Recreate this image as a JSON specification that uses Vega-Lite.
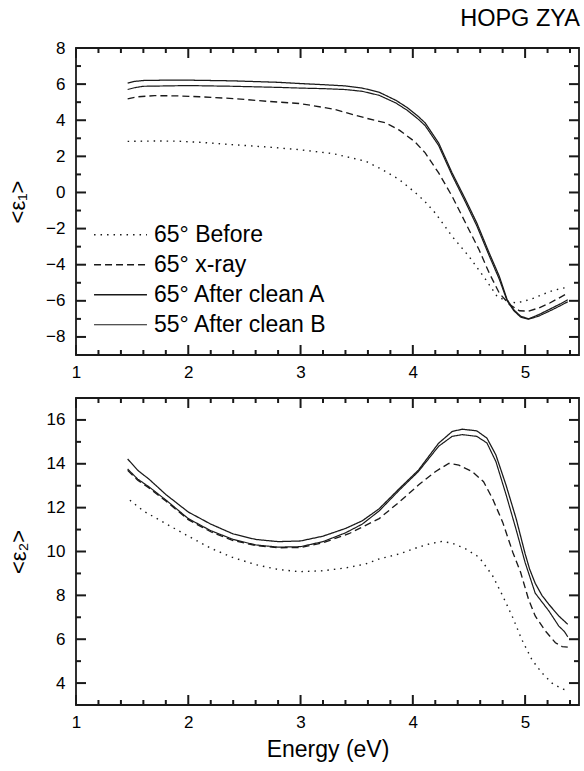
{
  "$schema": "https://vega.github.io/schema/vega-lite/v6.json",
  "padding": {"left": 5, "top": 6, "right": 4, "bottom": 4},
  "title": {"text": "HOPG ZYA", "anchor": "end", "fontSize": 23.5, "fontWeight": "normal", "font": "Liberation Sans", "color": "#000", "offset": 8},
  "spacing": 16,
  "datasets": {
    "xticks": [
      {"t": 1, "k": "major"}, {"t": 1.2, "k": "minor"}, {"t": 1.4, "k": "minor"}, {"t": 1.6, "k": "minor"}, {"t": 1.8, "k": "minor"},
      {"t": 2, "k": "major"}, {"t": 2.2, "k": "minor"}, {"t": 2.4, "k": "minor"}, {"t": 2.6, "k": "minor"}, {"t": 2.8, "k": "minor"},
      {"t": 3, "k": "major"}, {"t": 3.2, "k": "minor"}, {"t": 3.4, "k": "minor"}, {"t": 3.6, "k": "minor"}, {"t": 3.8, "k": "minor"},
      {"t": 4, "k": "major"}, {"t": 4.2, "k": "minor"}, {"t": 4.4, "k": "minor"}, {"t": 4.6, "k": "minor"}, {"t": 4.8, "k": "minor"},
      {"t": 5, "k": "major"}, {"t": 5.2, "k": "minor"}, {"t": 5.4, "k": "minor"}
    ],
    "yticks1": [
      {"t": -8, "k": "major"}, {"t": -7, "k": "minor"}, {"t": -6, "k": "major"}, {"t": -5, "k": "minor"}, {"t": -4, "k": "major"}, {"t": -3, "k": "minor"}, {"t": -2, "k": "major"}, {"t": -1, "k": "minor"},
      {"t": 0, "k": "major"}, {"t": 1, "k": "minor"}, {"t": 2, "k": "major"}, {"t": 3, "k": "minor"}, {"t": 4, "k": "major"}, {"t": 5, "k": "minor"}, {"t": 6, "k": "major"}, {"t": 7, "k": "minor"}, {"t": 8, "k": "major"}
    ],
    "yticks2": [
      {"t": 4, "k": "major"}, {"t": 5, "k": "minor"}, {"t": 6, "k": "major"}, {"t": 7, "k": "minor"}, {"t": 8, "k": "major"}, {"t": 9, "k": "minor"}, {"t": 10, "k": "major"},
      {"t": 11, "k": "minor"}, {"t": 12, "k": "major"}, {"t": 13, "k": "minor"}, {"t": 14, "k": "major"}, {"t": 15, "k": "minor"}, {"t": 16, "k": "major"}
    ],
    "eps1": [
      {"s": "65° Before", "E": 1.46, "v": 2.83}, {"s": "65° Before", "E": 1.7, "v": 2.85}, {"s": "65° Before", "E": 1.9, "v": 2.84}, {"s": "65° Before", "E": 2.1, "v": 2.78}, {"s": "65° Before", "E": 2.39, "v": 2.65}, {"s": "65° Before", "E": 2.7, "v": 2.52}, {"s": "65° Before", "E": 2.99, "v": 2.37}, {"s": "65° Before", "E": 3.29, "v": 2.15}, {"s": "65° Before", "E": 3.58, "v": 1.73}, {"s": "65° Before", "E": 3.73, "v": 1.26}, {"s": "65° Before", "E": 3.88, "v": 0.71}, {"s": "65° Before", "E": 4.02, "v": 0.0}, {"s": "65° Before", "E": 4.1, "v": -0.45}, {"s": "65° Before", "E": 4.2, "v": -1.14}, {"s": "65° Before", "E": 4.35, "v": -2.43}, {"s": "65° Before", "E": 4.5, "v": -3.54}, {"s": "65° Before", "E": 4.65, "v": -4.83}, {"s": "65° Before", "E": 4.75, "v": -5.75}, {"s": "65° Before", "E": 4.83, "v": -6.0}, {"s": "65° Before", "E": 4.92, "v": -6.12}, {"s": "65° Before", "E": 5.0, "v": -6.0}, {"s": "65° Before", "E": 5.08, "v": -5.85}, {"s": "65° Before", "E": 5.15, "v": -5.66}, {"s": "65° Before", "E": 5.24, "v": -5.45}, {"s": "65° Before", "E": 5.32, "v": -5.32}, {"s": "65° Before", "E": 5.38, "v": -5.25},
      {"s": "65° x-ray", "E": 1.46, "v": 5.18}, {"s": "65° x-ray", "E": 1.55, "v": 5.3}, {"s": "65° x-ray", "E": 1.7, "v": 5.36}, {"s": "65° x-ray", "E": 1.9, "v": 5.35}, {"s": "65° x-ray", "E": 2.1, "v": 5.3}, {"s": "65° x-ray", "E": 2.4, "v": 5.2}, {"s": "65° x-ray", "E": 2.7, "v": 5.05}, {"s": "65° x-ray", "E": 3.0, "v": 4.92}, {"s": "65° x-ray", "E": 3.29, "v": 4.62}, {"s": "65° x-ray", "E": 3.58, "v": 4.12}, {"s": "65° x-ray", "E": 3.76, "v": 3.85}, {"s": "65° x-ray", "E": 3.88, "v": 3.45}, {"s": "65° x-ray", "E": 4.02, "v": 2.8}, {"s": "65° x-ray", "E": 4.11, "v": 2.19}, {"s": "65° x-ray", "E": 4.23, "v": 1.08}, {"s": "65° x-ray", "E": 4.35, "v": -0.21}, {"s": "65° x-ray", "E": 4.47, "v": -1.69}, {"s": "65° x-ray", "E": 4.59, "v": -3.17}, {"s": "65° x-ray", "E": 4.68, "v": -4.46}, {"s": "65° x-ray", "E": 4.77, "v": -5.57}, {"s": "65° x-ray", "E": 4.86, "v": -6.2}, {"s": "65° x-ray", "E": 4.95, "v": -6.55}, {"s": "65° x-ray", "E": 5.03, "v": -6.57}, {"s": "65° x-ray", "E": 5.12, "v": -6.4}, {"s": "65° x-ray", "E": 5.22, "v": -6.12}, {"s": "65° x-ray", "E": 5.3, "v": -5.85}, {"s": "65° x-ray", "E": 5.38, "v": -5.57},
      {"s": "65° After clean A", "E": 1.46, "v": 6.05}, {"s": "65° After clean A", "E": 1.52, "v": 6.15}, {"s": "65° After clean A", "E": 1.6, "v": 6.2}, {"s": "65° After clean A", "E": 1.8, "v": 6.22}, {"s": "65° After clean A", "E": 2.0, "v": 6.22}, {"s": "65° After clean A", "E": 2.2, "v": 6.2}, {"s": "65° After clean A", "E": 2.4, "v": 6.18}, {"s": "65° After clean A", "E": 2.6, "v": 6.14}, {"s": "65° After clean A", "E": 2.8, "v": 6.1}, {"s": "65° After clean A", "E": 3.0, "v": 6.03}, {"s": "65° After clean A", "E": 3.2, "v": 5.97}, {"s": "65° After clean A", "E": 3.4, "v": 5.9}, {"s": "65° After clean A", "E": 3.55, "v": 5.78}, {"s": "65° After clean A", "E": 3.7, "v": 5.55}, {"s": "65° After clean A", "E": 3.85, "v": 5.1}, {"s": "65° After clean A", "E": 3.95, "v": 4.7}, {"s": "65° After clean A", "E": 4.05, "v": 4.2}, {"s": "65° After clean A", "E": 4.11, "v": 3.85}, {"s": "65° After clean A", "E": 4.23, "v": 2.74}, {"s": "65° After clean A", "E": 4.35, "v": 1.08}, {"s": "65° After clean A", "E": 4.47, "v": -0.4}, {"s": "65° After clean A", "E": 4.57, "v": -1.69}, {"s": "65° After clean A", "E": 4.68, "v": -3.35}, {"s": "65° After clean A", "E": 4.77, "v": -4.64}, {"s": "65° After clean A", "E": 4.84, "v": -5.94}, {"s": "65° After clean A", "E": 4.9, "v": -6.5}, {"s": "65° After clean A", "E": 4.96, "v": -6.85}, {"s": "65° After clean A", "E": 5.03, "v": -7.0}, {"s": "65° After clean A", "E": 5.12, "v": -6.77}, {"s": "65° After clean A", "E": 5.24, "v": -6.4}, {"s": "65° After clean A", "E": 5.32, "v": -6.15}, {"s": "65° After clean A", "E": 5.38, "v": -5.94},
      {"s": "55° After clean B", "E": 1.46, "v": 5.7}, {"s": "55° After clean B", "E": 1.52, "v": 5.8}, {"s": "55° After clean B", "E": 1.6, "v": 5.88}, {"s": "55° After clean B", "E": 1.8, "v": 5.9}, {"s": "55° After clean B", "E": 2.0, "v": 5.92}, {"s": "55° After clean B", "E": 2.2, "v": 5.9}, {"s": "55° After clean B", "E": 2.4, "v": 5.88}, {"s": "55° After clean B", "E": 2.6, "v": 5.85}, {"s": "55° After clean B", "E": 2.8, "v": 5.82}, {"s": "55° After clean B", "E": 3.0, "v": 5.78}, {"s": "55° After clean B", "E": 3.2, "v": 5.75}, {"s": "55° After clean B", "E": 3.4, "v": 5.7}, {"s": "55° After clean B", "E": 3.55, "v": 5.6}, {"s": "55° After clean B", "E": 3.7, "v": 5.38}, {"s": "55° After clean B", "E": 3.85, "v": 4.95}, {"s": "55° After clean B", "E": 3.95, "v": 4.55}, {"s": "55° After clean B", "E": 4.05, "v": 4.05}, {"s": "55° After clean B", "E": 4.11, "v": 3.7}, {"s": "55° After clean B", "E": 4.23, "v": 2.6}, {"s": "55° After clean B", "E": 4.35, "v": 0.95}, {"s": "55° After clean B", "E": 4.47, "v": -0.55}, {"s": "55° After clean B", "E": 4.57, "v": -1.85}, {"s": "55° After clean B", "E": 4.68, "v": -3.5}, {"s": "55° After clean B", "E": 4.77, "v": -4.8}, {"s": "55° After clean B", "E": 4.84, "v": -6.0}, {"s": "55° After clean B", "E": 4.9, "v": -6.55}, {"s": "55° After clean B", "E": 4.96, "v": -6.9}, {"s": "55° After clean B", "E": 5.03, "v": -7.02}, {"s": "55° After clean B", "E": 5.12, "v": -6.85}, {"s": "55° After clean B", "E": 5.24, "v": -6.5}, {"s": "55° After clean B", "E": 5.32, "v": -6.25}, {"s": "55° After clean B", "E": 5.38, "v": -6.05}
    ],
    "eps2": [
      {"s": "65° Before", "E": 1.48, "v": 12.34}, {"s": "65° Before", "E": 1.6, "v": 11.85}, {"s": "65° Before", "E": 1.8, "v": 11.27}, {"s": "65° Before", "E": 2.0, "v": 10.7}, {"s": "65° Before", "E": 2.2, "v": 10.15}, {"s": "65° Before", "E": 2.39, "v": 9.74}, {"s": "65° Before", "E": 2.6, "v": 9.4}, {"s": "65° Before", "E": 2.8, "v": 9.18}, {"s": "65° Before", "E": 2.99, "v": 9.08}, {"s": "65° Before", "E": 3.2, "v": 9.12}, {"s": "65° Before", "E": 3.4, "v": 9.25}, {"s": "65° Before", "E": 3.58, "v": 9.43}, {"s": "65° Before", "E": 3.7, "v": 9.66}, {"s": "65° Before", "E": 3.88, "v": 9.89}, {"s": "65° Before", "E": 4.05, "v": 10.2}, {"s": "65° Before", "E": 4.15, "v": 10.35}, {"s": "65° Before", "E": 4.26, "v": 10.46}, {"s": "65° Before", "E": 4.35, "v": 10.38}, {"s": "65° Before", "E": 4.47, "v": 10.12}, {"s": "65° Before", "E": 4.59, "v": 9.74}, {"s": "65° Before", "E": 4.71, "v": 8.9}, {"s": "65° Before", "E": 4.8, "v": 7.98}, {"s": "65° Before", "E": 4.89, "v": 6.99}, {"s": "65° Before", "E": 4.97, "v": 5.99}, {"s": "65° Before", "E": 5.06, "v": 5.07}, {"s": "65° Before", "E": 5.15, "v": 4.46}, {"s": "65° Before", "E": 5.24, "v": 4.0}, {"s": "65° Before", "E": 5.33, "v": 3.73}, {"s": "65° Before", "E": 5.38, "v": 3.67},
      {"s": "65° x-ray", "E": 1.46, "v": 13.7}, {"s": "65° x-ray", "E": 1.55, "v": 13.25}, {"s": "65° x-ray", "E": 1.65, "v": 12.9}, {"s": "65° x-ray", "E": 1.8, "v": 12.3}, {"s": "65° x-ray", "E": 2.0, "v": 11.45}, {"s": "65° x-ray", "E": 2.2, "v": 10.9}, {"s": "65° x-ray", "E": 2.4, "v": 10.5}, {"s": "65° x-ray", "E": 2.6, "v": 10.27}, {"s": "65° x-ray", "E": 2.8, "v": 10.17}, {"s": "65° x-ray", "E": 3.0, "v": 10.18}, {"s": "65° x-ray", "E": 3.2, "v": 10.4}, {"s": "65° x-ray", "E": 3.43, "v": 10.81}, {"s": "65° x-ray", "E": 3.7, "v": 11.5}, {"s": "65° x-ray", "E": 3.88, "v": 12.26}, {"s": "65° x-ray", "E": 4.05, "v": 13.03}, {"s": "65° x-ray", "E": 4.2, "v": 13.64}, {"s": "65° x-ray", "E": 4.32, "v": 14.02}, {"s": "65° x-ray", "E": 4.41, "v": 13.94}, {"s": "65° x-ray", "E": 4.53, "v": 13.64}, {"s": "65° x-ray", "E": 4.63, "v": 13.18}, {"s": "65° x-ray", "E": 4.71, "v": 12.41}, {"s": "65° x-ray", "E": 4.8, "v": 11.34}, {"s": "65° x-ray", "E": 4.89, "v": 9.97}, {"s": "65° x-ray", "E": 4.96, "v": 9.05}, {"s": "65° x-ray", "E": 5.03, "v": 7.83}, {"s": "65° x-ray", "E": 5.09, "v": 7.06}, {"s": "65° x-ray", "E": 5.18, "v": 6.38}, {"s": "65° x-ray", "E": 5.27, "v": 5.84}, {"s": "65° x-ray", "E": 5.33, "v": 5.66}, {"s": "65° x-ray", "E": 5.38, "v": 5.64},
      {"s": "65° After clean A", "E": 1.46, "v": 14.22}, {"s": "65° After clean A", "E": 1.55, "v": 13.7}, {"s": "65° After clean A", "E": 1.65, "v": 13.3}, {"s": "65° After clean A", "E": 1.8, "v": 12.6}, {"s": "65° After clean A", "E": 2.0, "v": 11.8}, {"s": "65° After clean A", "E": 2.2, "v": 11.25}, {"s": "65° After clean A", "E": 2.4, "v": 10.8}, {"s": "65° After clean A", "E": 2.6, "v": 10.55}, {"s": "65° After clean A", "E": 2.8, "v": 10.45}, {"s": "65° After clean A", "E": 3.0, "v": 10.48}, {"s": "65° After clean A", "E": 3.2, "v": 10.7}, {"s": "65° After clean A", "E": 3.4, "v": 11.05}, {"s": "65° After clean A", "E": 3.55, "v": 11.4}, {"s": "65° After clean A", "E": 3.7, "v": 11.95}, {"s": "65° After clean A", "E": 3.88, "v": 12.87}, {"s": "65° After clean A", "E": 4.05, "v": 13.71}, {"s": "65° After clean A", "E": 4.23, "v": 14.94}, {"s": "65° After clean A", "E": 4.35, "v": 15.47}, {"s": "65° After clean A", "E": 4.44, "v": 15.58}, {"s": "65° After clean A", "E": 4.57, "v": 15.5}, {"s": "65° After clean A", "E": 4.66, "v": 15.17}, {"s": "65° After clean A", "E": 4.74, "v": 14.4}, {"s": "65° After clean A", "E": 4.83, "v": 13.03}, {"s": "65° After clean A", "E": 4.92, "v": 11.5}, {"s": "65° After clean A", "E": 5.0, "v": 9.9}, {"s": "65° After clean A", "E": 5.04, "v": 9.2}, {"s": "65° After clean A", "E": 5.09, "v": 8.55}, {"s": "65° After clean A", "E": 5.15, "v": 8.0}, {"s": "65° After clean A", "E": 5.21, "v": 7.6}, {"s": "65° After clean A", "E": 5.3, "v": 7.06}, {"s": "65° After clean A", "E": 5.38, "v": 6.68},
      {"s": "55° After clean B", "E": 1.46, "v": 13.76}, {"s": "55° After clean B", "E": 1.55, "v": 13.3}, {"s": "55° After clean B", "E": 1.65, "v": 12.95}, {"s": "55° After clean B", "E": 1.8, "v": 12.35}, {"s": "55° After clean B", "E": 2.0, "v": 11.5}, {"s": "55° After clean B", "E": 2.2, "v": 10.95}, {"s": "55° After clean B", "E": 2.4, "v": 10.55}, {"s": "55° After clean B", "E": 2.6, "v": 10.3}, {"s": "55° After clean B", "E": 2.8, "v": 10.2}, {"s": "55° After clean B", "E": 3.0, "v": 10.22}, {"s": "55° After clean B", "E": 3.2, "v": 10.45}, {"s": "55° After clean B", "E": 3.4, "v": 10.85}, {"s": "55° After clean B", "E": 3.55, "v": 11.25}, {"s": "55° After clean B", "E": 3.7, "v": 11.85}, {"s": "55° After clean B", "E": 3.88, "v": 12.8}, {"s": "55° After clean B", "E": 4.05, "v": 13.65}, {"s": "55° After clean B", "E": 4.23, "v": 14.8}, {"s": "55° After clean B", "E": 4.35, "v": 15.25}, {"s": "55° After clean B", "E": 4.44, "v": 15.33}, {"s": "55° After clean B", "E": 4.57, "v": 15.25}, {"s": "55° After clean B", "E": 4.66, "v": 14.95}, {"s": "55° After clean B", "E": 4.74, "v": 14.1}, {"s": "55° After clean B", "E": 4.83, "v": 12.6}, {"s": "55° After clean B", "E": 4.92, "v": 11.0}, {"s": "55° After clean B", "E": 5.0, "v": 9.5}, {"s": "55° After clean B", "E": 5.09, "v": 8.1}, {"s": "55° After clean B", "E": 5.21, "v": 7.3}, {"s": "55° After clean B", "E": 5.3, "v": 6.6}, {"s": "55° After clean B", "E": 5.35, "v": 6.35}, {"s": "55° After clean B", "E": 5.38, "v": 6.11}
    ]
  },
  "vconcat": [
    {
      "width": 503, "height": 307,
      "layer": [
        {
          "data": {"name": "eps1"},
          "mark": {"type": "line", "color": "#1a1a1a", "strokeCap": "butt"},
          "encoding": {
            "x": {"field": "E", "type": "quantitative", "scale": {"domain": [1, 5.48], "nice": false, "zero": false},
                  "axis": {"orient": "bottom", "values": [1, 2, 3, 4, 5], "format": "d", "title": null, "ticks": false, "labelPadding": 9}},
            "y": {"field": "v", "type": "quantitative", "scale": {"domain": [-9, 8], "nice": false, "zero": false},
                  "axis": {"orient": "left", "values": [-8, -6, -4, -2, 0, 2, 4, 6, 8], "format": "d", "title": "<ε₁>", "ticks": false, "labelPadding": 11, "titlePadding": 16}},
            "strokeDash": {"field": "s", "type": "ordinal",
                  "scale": {"domain": ["65° Before", "65° x-ray", "65° After clean A", "55° After clean B"], "range": [[1.5, 5], [7, 4], [1, 0], [1, 0]]},
                  "legend": {"title": null, "orient": "none", "legendX": 17, "legendY": 172, "symbolType": "stroke", "symbolSize": 2800, "labelFontSize": 23, "labelLimit": 0, "labelFont": "Liberation Sans", "labelColor": "#000", "labelOffset": 6, "rowPadding": 0, "clipHeight": 29.5, "symbolStrokeColor": "#1a1a1a"}},
            "strokeWidth": {"field": "s", "type": "ordinal",
                  "scale": {"domain": ["65° Before", "65° x-ray", "65° After clean A", "55° After clean B"], "range": [1.4, 1.2, 2.8, 0.9]},
                  "legend": {"title": null, "orient": "none", "legendX": 17, "legendY": 172, "symbolType": "stroke", "symbolSize": 2800, "labelFontSize": 23, "labelLimit": 0, "labelFont": "Liberation Sans", "labelColor": "#000", "labelOffset": 6, "rowPadding": 0, "clipHeight": 29.5, "symbolStrokeColor": "#1a1a1a"}}
          }
        },
        {"data": {"name": "xticks"}, "transform": [{"filter": "datum.k == 'major'"}],
         "mark": {"type": "tick", "orient": "vertical", "thickness": 2, "size": 10, "yOffset": -5, "color": "#1a1a1a", "opacity": 1},
         "encoding": {"x": {"field": "t", "type": "quantitative", "axis": null}, "y": {"datum": -9, "type": "quantitative", "axis": null}}},
        {"data": {"name": "xticks"}, "transform": [{"filter": "datum.k == 'minor'"}],
         "mark": {"type": "tick", "orient": "vertical", "thickness": 2, "size": 5, "yOffset": -2.5, "color": "#1a1a1a", "opacity": 1},
         "encoding": {"x": {"field": "t", "type": "quantitative", "axis": null}, "y": {"datum": -9, "type": "quantitative", "axis": null}}},
        {"data": {"name": "xticks"}, "transform": [{"filter": "datum.k == 'major'"}],
         "mark": {"type": "tick", "orient": "vertical", "thickness": 2, "size": 10, "yOffset": 5, "color": "#1a1a1a", "opacity": 1},
         "encoding": {"x": {"field": "t", "type": "quantitative", "axis": null}, "y": {"datum": 8, "type": "quantitative", "axis": null}}},
        {"data": {"name": "xticks"}, "transform": [{"filter": "datum.k == 'minor'"}],
         "mark": {"type": "tick", "orient": "vertical", "thickness": 2, "size": 5, "yOffset": 2.5, "color": "#1a1a1a", "opacity": 1},
         "encoding": {"x": {"field": "t", "type": "quantitative", "axis": null}, "y": {"datum": 8, "type": "quantitative", "axis": null}}},
        {"data": {"name": "yticks1"}, "transform": [{"filter": "datum.k == 'major'"}],
         "mark": {"type": "tick", "orient": "horizontal", "thickness": 2, "size": 10, "xOffset": 5, "color": "#1a1a1a", "opacity": 1},
         "encoding": {"y": {"field": "t", "type": "quantitative", "axis": null}, "x": {"datum": 1, "type": "quantitative", "axis": null}}},
        {"data": {"name": "yticks1"}, "transform": [{"filter": "datum.k == 'minor'"}],
         "mark": {"type": "tick", "orient": "horizontal", "thickness": 2, "size": 5, "xOffset": 2.5, "color": "#1a1a1a", "opacity": 1},
         "encoding": {"y": {"field": "t", "type": "quantitative", "axis": null}, "x": {"datum": 1, "type": "quantitative", "axis": null}}},
        {"data": {"name": "yticks1"}, "transform": [{"filter": "datum.k == 'major'"}],
         "mark": {"type": "tick", "orient": "horizontal", "thickness": 2, "size": 10, "xOffset": -5, "color": "#1a1a1a", "opacity": 1},
         "encoding": {"y": {"field": "t", "type": "quantitative", "axis": null}, "x": {"datum": 5.48, "type": "quantitative", "axis": null}}},
        {"data": {"name": "yticks1"}, "transform": [{"filter": "datum.k == 'minor'"}],
         "mark": {"type": "tick", "orient": "horizontal", "thickness": 2, "size": 5, "xOffset": -2.5, "color": "#1a1a1a", "opacity": 1},
         "encoding": {"y": {"field": "t", "type": "quantitative", "axis": null}, "x": {"datum": 5.48, "type": "quantitative", "axis": null}}}
      ],
      "resolve": {"axis": {"x": "independent", "y": "independent"}}
    },
    {
      "width": 503, "height": 307,
      "layer": [
        {
          "data": {"name": "eps2"},
          "mark": {"type": "line", "color": "#1a1a1a", "strokeCap": "butt"},
          "encoding": {
            "x": {"field": "E", "type": "quantitative", "scale": {"domain": [1, 5.48], "nice": false, "zero": false},
                  "axis": {"orient": "bottom", "values": [1, 2, 3, 4, 5], "format": "d", "title": "Energy (eV)", "ticks": false, "labelPadding": 9, "titlePadding": 8, "titleFontSize": 23}},
            "y": {"field": "v", "type": "quantitative", "scale": {"domain": [3, 17], "nice": false, "zero": false},
                  "axis": {"orient": "left", "values": [4, 6, 8, 10, 12, 14, 16], "format": "d", "title": "<ε₂>", "ticks": false, "labelPadding": 11, "titlePadding": 16}},
            "strokeDash": {"field": "s", "type": "ordinal",
                  "scale": {"domain": ["65° Before", "65° x-ray", "65° After clean A", "55° After clean B"], "range": [[1.5, 5], [7, 4], [1, 0], [1, 0]]}, "legend": null},
            "strokeWidth": {"field": "s", "type": "ordinal",
                  "scale": {"domain": ["65° Before", "65° x-ray", "65° After clean A", "55° After clean B"], "range": [1.4, 1.2, 2.8, 0.9]}, "legend": null}
          }
        },
        {"data": {"name": "xticks"}, "transform": [{"filter": "datum.k == 'major'"}],
         "mark": {"type": "tick", "orient": "vertical", "thickness": 2, "size": 10, "yOffset": -5, "color": "#1a1a1a", "opacity": 1},
         "encoding": {"x": {"field": "t", "type": "quantitative", "axis": null}, "y": {"datum": 3, "type": "quantitative", "axis": null}}},
        {"data": {"name": "xticks"}, "transform": [{"filter": "datum.k == 'minor'"}],
         "mark": {"type": "tick", "orient": "vertical", "thickness": 2, "size": 5, "yOffset": -2.5, "color": "#1a1a1a", "opacity": 1},
         "encoding": {"x": {"field": "t", "type": "quantitative", "axis": null}, "y": {"datum": 3, "type": "quantitative", "axis": null}}},
        {"data": {"name": "xticks"}, "transform": [{"filter": "datum.k == 'major'"}],
         "mark": {"type": "tick", "orient": "vertical", "thickness": 2, "size": 10, "yOffset": 5, "color": "#1a1a1a", "opacity": 1},
         "encoding": {"x": {"field": "t", "type": "quantitative", "axis": null}, "y": {"datum": 17, "type": "quantitative", "axis": null}}},
        {"data": {"name": "xticks"}, "transform": [{"filter": "datum.k == 'minor'"}],
         "mark": {"type": "tick", "orient": "vertical", "thickness": 2, "size": 5, "yOffset": 2.5, "color": "#1a1a1a", "opacity": 1},
         "encoding": {"x": {"field": "t", "type": "quantitative", "axis": null}, "y": {"datum": 17, "type": "quantitative", "axis": null}}},
        {"data": {"name": "yticks2"}, "transform": [{"filter": "datum.k == 'major'"}],
         "mark": {"type": "tick", "orient": "horizontal", "thickness": 2, "size": 10, "xOffset": 5, "color": "#1a1a1a", "opacity": 1},
         "encoding": {"y": {"field": "t", "type": "quantitative", "axis": null}, "x": {"datum": 1, "type": "quantitative", "axis": null}}},
        {"data": {"name": "yticks2"}, "transform": [{"filter": "datum.k == 'minor'"}],
         "mark": {"type": "tick", "orient": "horizontal", "thickness": 2, "size": 5, "xOffset": 2.5, "color": "#1a1a1a", "opacity": 1},
         "encoding": {"y": {"field": "t", "type": "quantitative", "axis": null}, "x": {"datum": 1, "type": "quantitative", "axis": null}}},
        {"data": {"name": "yticks2"}, "transform": [{"filter": "datum.k == 'major'"}],
         "mark": {"type": "tick", "orient": "horizontal", "thickness": 2, "size": 10, "xOffset": -5, "color": "#1a1a1a", "opacity": 1},
         "encoding": {"y": {"field": "t", "type": "quantitative", "axis": null}, "x": {"datum": 5.48, "type": "quantitative", "axis": null}}},
        {"data": {"name": "yticks2"}, "transform": [{"filter": "datum.k == 'minor'"}],
         "mark": {"type": "tick", "orient": "horizontal", "thickness": 2, "size": 5, "xOffset": -2.5, "color": "#1a1a1a", "opacity": 1},
         "encoding": {"y": {"field": "t", "type": "quantitative", "axis": null}, "x": {"datum": 5.48, "type": "quantitative", "axis": null}}}
      ],
      "resolve": {"axis": {"x": "independent", "y": "independent"}}
    }
  ],
  "resolve": {"scale": {"y": "independent", "strokeDash": "independent", "strokeWidth": "independent"}},
  "config": {
    "font": "Liberation Sans",
    "view": {"stroke": "#1a1a1a", "strokeWidth": 1.8},
    "axis": {"domain": false, "grid": false, "labelFont": "Liberation Sans", "labelFontSize": 17, "labelColor": "#000", "titleFont": "Liberation Sans", "titleFontSize": 22, "titleFontWeight": "normal", "titleColor": "#000", "labelFlush": false, "labelOverlap": false}
  }
}
